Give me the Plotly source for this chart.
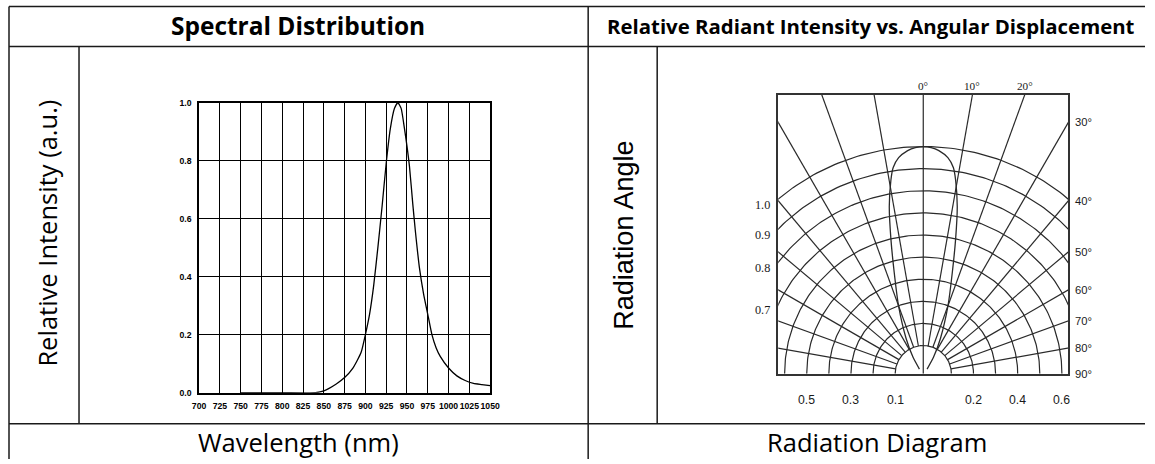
import numpy as np
import plotly.graph_objects as go

W, H = 1155, 464

# ---------------- data ----------------
wl_ticks = [700, 725, 750, 775, 800, 825, 850, 875, 900, 925, 950, 975, 1000, 1025, 1050]
int_ticks = [0.0, 0.2, 0.4, 0.6, 0.8, 1.0]

wavelength = [750, 800, 840, 850, 865, 875, 885, 890, 895, 900, 905, 910, 915, 920, 925,
              930, 935, 939, 943, 947, 950, 953, 957, 960, 965, 970, 975, 980, 985, 990,
              1000, 1010, 1020, 1030, 1040, 1050]
intensity = [0.0, 0.0, 0.0, 0.006, 0.03, 0.052, 0.085, 0.11, 0.14, 0.20, 0.27, 0.37, 0.50,
             0.64, 0.79, 0.91, 0.98, 1.0, 0.98, 0.91, 0.85, 0.78, 0.65, 0.56, 0.43, 0.34,
             0.27, 0.20, 0.155, 0.125, 0.085, 0.058, 0.042, 0.032, 0.028, 0.024]

lobe_angle = [-40, -32, -26, -20, -16, -13.5, -11.5, -9.5, -8.3, -6.5, -4, -2, 0,
              2, 4, 6.5, 8.3, 9.5, 11.5, 13.5, 16, 20, 26, 32, 40]
lobe_rel = [0.0, 0.06, 0.15, 0.30, 0.45, 0.60, 0.744, 0.86, 0.915, 0.956, 0.984, 0.996, 1.0,
            0.996, 0.984, 0.956, 0.915, 0.86, 0.744, 0.60, 0.45, 0.30, 0.15, 0.06, 0.0]

arc_levels = [0.1, 0.2, 0.3, 0.4, 0.5, 0.6, 0.7, 0.8, 0.9, 1.0]
spoke_angles = [-80, -70, -60, -50, -40, -30, -20, -10, 0, 10, 20, 30, 40, 50, 60, 70, 80]
right_labels = [30, 40, 50, 60, 70, 80, 90]
top_labels = [0, 10, 20]
left_labels = [1.0, 0.9, 0.8, 0.7]
bottom_labels = [-0.5, -0.3, -0.1, 0.2, 0.4, 0.6]   # sign = side of the diagram

# ---------------- helpers ----------------
# the page is photographed slightly shrunk/offset; compensate so that
# target picture pixels land where intended
SX, OX = 0.985, 6.0
SY, OY = 0.978, 5.5
FS = 1 / 0.98   # font compensation

def px(x):
    return ((x - OX) / SX) / W

def py(y):
    return 1 - ((y - OY) / SY) / H

R0 = 0.0264           # radius of the 0 level of the diagram (diagram units)
def rad(r):
    return R0 + (1 - R0) * r

XH = 145 / 227        # half width of diagram box (diagram units)
YH = 279 / 227        # height of diagram box

fig = go.Figure()

# ---------------- spectral distribution ----------------
fig.add_trace(go.Scatter(x=wavelength, y=intensity, mode="lines",
                         line=dict(color="black", width=1.3, shape="spline", smoothing=0.5),
                         xaxis="x", yaxis="y", showlegend=False, hoverinfo="skip"))

# ---------------- radiation diagram grid ----------------
grid_col = "#2a2a2a"
for lv in arc_levels:
    t = np.radians(np.linspace(-90, 90, 181))
    R = rad(lv)
    fig.add_trace(go.Scatter(x=R * np.sin(t), y=R * np.cos(t), mode="lines",
                             line=dict(color=grid_col, width=1.2),
                             xaxis="x2", yaxis="y2", showlegend=False, hoverinfo="skip"))
for a in spoke_angles:
    t = np.radians(a)
    r_start = 0.0 if a == 0 else rad(0.1)
    fig.add_trace(go.Scatter(x=[r_start * np.sin(t), 3 * np.sin(t)],
                             y=[r_start * np.cos(t), 3 * np.cos(t)], mode="lines",
                             line=dict(color=grid_col, width=1.2),
                             xaxis="x2", yaxis="y2", showlegend=False, hoverinfo="skip"))

lt = np.radians(np.array(lobe_angle))
lr = rad(np.array(lobe_rel))
fig.add_trace(go.Scatter(x=lr * np.sin(lt), y=lr * np.cos(lt), mode="lines",
                         line=dict(color=grid_col, width=1.3, shape="spline", smoothing=0.6),
                         xaxis="x2", yaxis="y2", showlegend=False, hoverinfo="skip"))

# ---------------- axes ----------------
tick_font = dict(family="Liberation Sans Narrow, Arial Narrow, Liberation Sans, sans-serif",
                 size=8.5 * FS, color="black", weight="bold")
fig.update_layout(
    width=W, height=H, margin=dict(l=0, r=0, t=0, b=0), autosize=False,
    paper_bgcolor="white", plot_bgcolor="white",
    xaxis=dict(domain=[px(198), px(489)], range=[700, 1050], tickvals=wl_ticks,
               ticktext=[str(v) for v in wl_ticks], showgrid=True, gridcolor="black",
               gridwidth=1.3, showline=True, linecolor="black", linewidth=1.5, mirror=True,
               zeroline=False, ticks="", tickfont=tick_font, ticklabelstandoff=4,
               tickangle=0, anchor="y"),
    yaxis=dict(domain=[py(393), py(103)], range=[0, 1], tickvals=int_ticks,
               ticktext=[f"{v:.1f}" for v in int_ticks], showgrid=True, gridcolor="black",
               gridwidth=1.3, showline=True, linecolor="black", linewidth=1.5, mirror=True,
               zeroline=False, ticks="", tickfont=tick_font, ticklabelstandoff=4,
               anchor="x"),
    xaxis2=dict(domain=[px(777), px(1067)], range=[-XH, XH], showgrid=False,
                showticklabels=False, showline=True, linecolor="#333", linewidth=1.5,
                mirror=True, zeroline=False, ticks="", anchor="y2"),
    yaxis2=dict(domain=[py(374), py(95)], range=[0, YH], showgrid=False,
                showticklabels=False, showline=True, linecolor="#333", linewidth=1.5,
                mirror=True, zeroline=False, ticks="", anchor="x2"),
)

# ---------------- table lines ----------------
line_col = "#1a1a1a"
def hline(y, x0, x1):
    fig.add_shape(type="line", xref="paper", yref="paper", x0=max(px(x0), 0),
                  x1=min(px(x1), 1), y0=py(y), y1=py(y),
                  line=dict(color=line_col, width=1.5))
def vline(x, y0, y1):
    fig.add_shape(type="line", xref="paper", yref="paper", x0=px(x), x1=px(x),
                  y0=min(py(y0), 1), y1=max(py(y1), 0),
                  line=dict(color=line_col, width=1.5))

hline(7, 8, 1160)
hline(47, 8, 1160)
hline(424, 8, 1160)
vline(8, 7, 470)
vline(587, 7, 470)
vline(78, 47, 424)
vline(656, 47, 424)

# ---------------- table texts ----------------
def ptext(x, y, text, size, family, bold=False, angle=0):
    fig.add_annotation(x=px(x), y=py(y), xref="paper", yref="paper", text=text,
                       showarrow=False, textangle=angle, xanchor="center", yanchor="middle",
                       font=dict(size=size * FS, family=family, color="black",
                                 weight="bold" if bold else "normal"))

ptext(297, 26, "Spectral Distribution", 24, "Open Sans", bold=True)
ptext(870, 26, "Relative Radiant Intensity vs. Angular Displacement", 20, "Open Sans", bold=True)
ptext(297, 442, "Wavelength (nm)", 25, "Open Sans")
ptext(876, 442, "Radiation Diagram", 25, "Open Sans")
ptext(46, 234, "Relative Intensity (a.u.)", 25, "Open Sans", angle=-90)
ptext(622, 236, "Radiation Angle", 26.5, "Liberation Sans", angle=-90)

# ---------------- diagram labels ----------------
lab_col = "#1a1a1a"
serif = "Liberation Serif, Times New Roman, serif"
sans = "Liberation Sans, Arial, sans-serif"
for a in right_labels:
    yv = XH / np.tan(np.radians(a)) if a < 90 else 0.0
    fig.add_annotation(x=XH, y=yv, xref="x2", yref="y2", text=f"{a}°", showarrow=False,
                       xanchor="left", yanchor="middle", xshift=5,
                       font=dict(size=11 * FS, family=sans, color=lab_col))
for a in top_labels:
    fig.add_annotation(x=YH * np.tan(np.radians(a)), y=YH, xref="x2", yref="y2",
                       text=f"{a}°", showarrow=False, xanchor="center", yanchor="bottom",
                       yshift=1, font=dict(size=11 * FS, family=serif, color=lab_col))
for lv in left_labels:
    R = rad(lv)
    yv = np.sqrt(max(R * R - XH * XH, 0))
    fig.add_annotation(x=-XH, y=yv, xref="x2", yref="y2", text=f"{lv:.1f}",
                       showarrow=False, xanchor="right", yanchor="middle", xshift=-6,
                       yshift=-6, font=dict(size=12 * FS, family=serif, color=lab_col))
for lv in bottom_labels:
    xv = np.sign(lv) * rad(abs(lv))
    fig.add_annotation(x=xv, y=0, xref="x2", yref="y2", text=f"{abs(lv):.1f}",
                       showarrow=False, xanchor="center", yanchor="top", yshift=-17,
                       font=dict(size=12 * FS, family=sans, color=lab_col))

fig.write_html("out.html", config={"responsive": False, "displayModeBar": False},
               post_script="document.body.style.margin='0';document.body.style.padding='0';"
                           "document.documentElement.style.overflow='hidden';")
